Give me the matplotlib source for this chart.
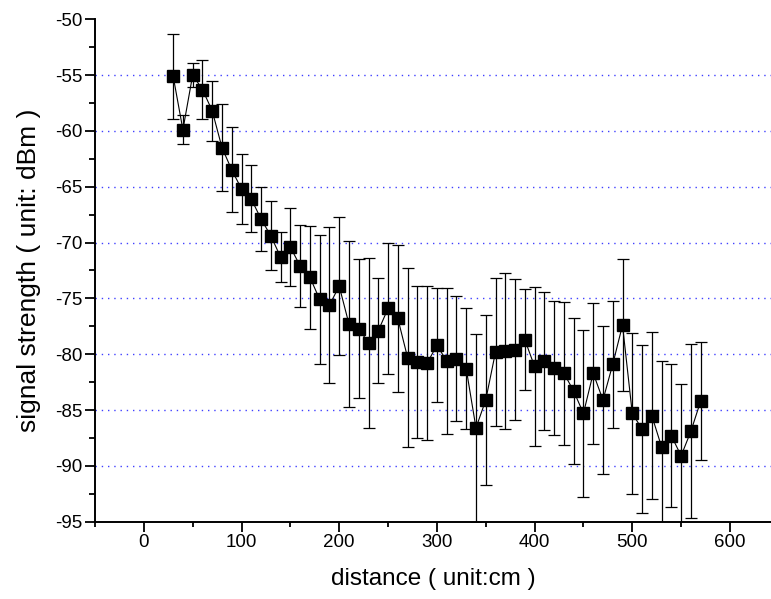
import numpy as np
import matplotlib
matplotlib.use("Agg")
import matplotlib.pyplot as plt
from matplotlib.ticker import MultipleLocator

plt.rcParams["font.family"] = ["Liberation Sans", "DejaVu Sans"]
plt.rcParams["axes.unicode_minus"] = False

# -- data -----------------------------------------------------------------------
distance = np.arange(30, 571, 10)
signal = [
    -55.1, -59.9, -55.0, -56.3, -58.2, -61.5, -63.5, -65.2, -66.1, -67.9,
    -69.4, -71.3, -70.4, -72.1, -73.1, -75.1, -75.6, -73.9, -77.3, -77.7,
    -79.0, -77.9, -75.9, -76.8, -80.3, -80.7, -80.8, -79.2, -80.6, -80.4,
    -81.3, -86.6, -84.1, -79.8, -79.7, -79.6, -78.7, -81.1, -80.6, -81.2,
    -81.7, -83.3, -85.3, -81.7, -84.1, -80.9, -77.4, -85.3, -86.7, -85.5,
    -88.3, -87.3, -89.1, -86.9, -84.2,
]
error = [
    3.8, 1.3, 1.1, 2.6, 2.7, 3.9, 3.8, 3.1, 3.0, 2.9,
    3.1, 2.2, 3.5, 3.7, 4.6, 5.8, 7.0, 6.2, 7.4, 6.2,
    7.6, 4.7, 5.9, 6.6, 8.0, 6.8, 6.9, 5.1, 6.5, 5.6,
    5.4, 8.4, 7.6, 6.6, 7.0, 6.3, 4.5, 7.1, 6.2, 6.0,
    6.4, 6.5, 7.5, 6.3, 6.6, 5.7, 5.9, 7.2, 7.5, 7.5,
    7.7, 6.4, 6.4, 7.8, 5.3,
]

x_ticks = [0, 100, 200, 300, 400, 500, 600]
y_ticks = [-95, -90, -85, -80, -75, -70, -65, -60, -55, -50]
grid_levels = [-90, -85, -80, -75, -70, -65, -60, -55]

# -- figure ----------------------------------------------------------------------
fig = plt.figure(figsize=(7.71, 5.99), dpi=100)
ax = fig.add_axes([0.1232, 0.129, 1.0 - 0.1232, 0.968 - 0.129])

for g in grid_levels:
    ax.axhline(g, color="#4040ff", lw=1.0, ls=(0, (1, 3.5)), zorder=0)

ax.errorbar(distance, signal, yerr=error, fmt="none", ecolor="black",
            elinewidth=0.9, capsize=4, capthick=0.9, zorder=2)
ax.plot(distance, signal, color="black", lw=0.8, zorder=3)
ax.plot(distance, signal, ls="none", marker="s", ms=8.5, color="black", zorder=4)

ax.set_xlim(-50, 642)
ax.set_ylim(-95, -50)
ax.set_xticks(x_ticks)
ax.set_yticks(y_ticks)
ax.xaxis.set_minor_locator(MultipleLocator(50))
ax.yaxis.set_minor_locator(MultipleLocator(2.5))

for side in ["top", "right"]:
    ax.spines[side].set_visible(False)
for side in ["left", "bottom"]:
    ax.spines[side].set_linewidth(1.4)

ax.tick_params(axis="both", which="major", direction="out", length=7, width=1.3,
               labelsize=13.5, pad=2)
ax.tick_params(axis="y", which="minor", direction="out", length=4.5, width=1.3)
ax.tick_params(axis="x", which="minor", direction="out", length=3.5, width=1.3)

ax.set_xlabel("distance ( unit:cm )", fontsize=17.5, labelpad=12)
ax.set_ylabel("signal strength ( unit: dBm )", fontsize=19, labelpad=10)

fig.savefig("out.png", dpi=100)
